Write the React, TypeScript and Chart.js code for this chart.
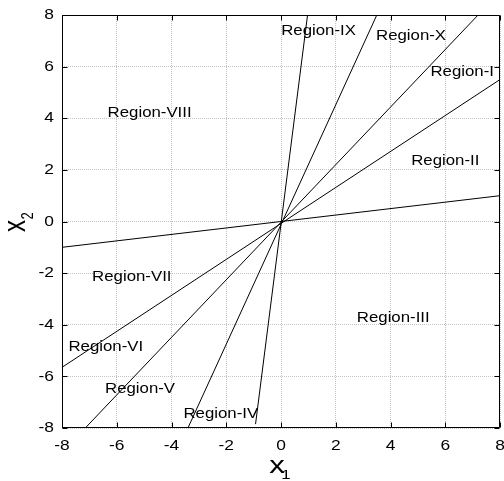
import React, { useEffect, useRef } from "react";
import { Chart, registerables } from "chart.js";

Chart.register(...registerables);

// Boundary lines through origin: endpoints (x1,y1) -> (x2,y2)
const lineStartX = [-8, -8, -7.15, -3.4, -0.93];
const lineStartY = [-1, -5.65, -8, -8, -7.85];
const lineEndX = [8, 8, 7.2, 3.5, 0.97];
const lineEndY = [1, 5.5, 8, 8, 8];

// Region labels (centre positions in data coordinates)
const regionNames = [
  "Region-I", "Region-II", "Region-III", "Region-IV", "Region-V",
  "Region-VI", "Region-VII", "Region-VIII", "Region-IX", "Region-X",
];
const regionX = [6.62, 6.0, 4.1, -2.2, -5.15, -6.4, -5.45, -4.8, 1.37, 4.75];
const regionY = [5.8, 2.35, -3.75, -7.45, -6.5, -4.85, -2.15, 4.2, 7.4, 7.2];

const tickValues = [-8, -6, -4, -2, 0, 2, 4, 6, 8];
const tickLabels = ["-8", "-6", "-4", "-2", "0", "2", "4", "6", "8"];

const FONT = "Liberation Sans, Arial, Helvetica, sans-serif";

function stretchText(ctx: any, text: string, x: number, y: number, size: number, sx: number, align: string, baseline: string) {
  ctx.save();
  ctx.translate(x, y);
  ctx.scale(sx, 1);
  ctx.font = `${size}px ${FONT}`;
  ctx.textAlign = align;
  ctx.textBaseline = baseline;
  ctx.fillText(text, 0, 0);
  ctx.restore();
}

const overlayPlugin = {
  id: "overlay",
  afterDatasetsDraw(chart: any) {
    const { ctx, chartArea, scales } = chart;
    const xs = scales.x;
    const ys = scales.y;
    ctx.save();
    // box
    ctx.strokeStyle = "#000";
    ctx.lineWidth = 1;
    const l = Math.round(chartArea.left) + 0.5;
    const r = Math.round(chartArea.right) - 0.5;
    const t = Math.round(chartArea.top) + 0.5;
    const b = Math.round(chartArea.bottom) - 0.5;
    ctx.beginPath();
    ctx.rect(l, t, r - l, b - t);
    ctx.stroke();
    // inward ticks
    const tl = 5;
    ctx.beginPath();
    tickValues.forEach((v) => {
      const px = Math.round(xs.getPixelForValue(v)) + 0.5;
      ctx.moveTo(px, b);
      ctx.lineTo(px, b - tl);
      ctx.moveTo(px, t);
      ctx.lineTo(px, t + tl);
      const py = Math.round(ys.getPixelForValue(v)) + 0.5;
      ctx.moveTo(l, py);
      ctx.lineTo(l + tl, py);
      ctx.moveTo(r, py);
      ctx.lineTo(r - tl, py);
    });
    ctx.stroke();
    ctx.fillStyle = "#000";
    // tick labels
    tickValues.forEach((v, i) => {
      stretchText(ctx, tickLabels[i], xs.getPixelForValue(v), 446, 15, 1.16, "center", "middle");
      stretchText(ctx, tickLabels[i], 54, ys.getPixelForValue(v), 15, 1.16, "right", "middle");
    });
    // region labels
    regionNames.forEach((name, i) => {
      stretchText(ctx, name, xs.getPixelForValue(regionX[i]), ys.getPixelForValue(regionY[i]), 15, 1.12, "center", "middle");
    });
    // x-axis title
    ctx.save();
    ctx.translate(277, 467);
    ctx.scale(1.3, 1);
    ctx.font = `24px ${FONT}`;
    ctx.textAlign = "left";
    ctx.textBaseline = "alphabetic";
    ctx.fillText("x", -6, 6.2);
    ctx.font = `13px ${FONT}`;
    ctx.textAlign = "center";
    ctx.fillText("1", 6.9, 12);
    ctx.restore();
    // y-axis title
    ctx.save();
    ctx.translate(17, 226);
    ctx.rotate(-Math.PI / 2);
    ctx.scale(1, 1.3);
    ctx.font = `24px ${FONT}`;
    ctx.textAlign = "left";
    ctx.textBaseline = "alphabetic";
    ctx.fillText("x", -6, 6.2);
    ctx.font = `13px ${FONT}`;
    ctx.textAlign = "center";
    ctx.fillText("2", 10, 12);
    ctx.restore();
    ctx.restore();
  },
};

export default function App() {
  const ref = useRef<HTMLCanvasElement | null>(null);
  useEffect(() => {
    if (!ref.current) return;
    const datasets = lineStartX.map((_, i) => ({
      data: [
        { x: lineStartX[i], y: lineStartY[i] },
        { x: lineEndX[i], y: lineEndY[i] },
      ],
      borderColor: "#000",
      borderWidth: 1,
      pointRadius: 0,
      fill: false,
    }));
    const axisCommon = (isY: boolean) => ({
      type: "linear" as const,
      min: -8,
      max: 8,
      ticks: { stepSize: 2, display: false },
      grid: { color: "#c4c4c4", drawTicks: false, lineWidth: 1 },
      border: { display: false, dash: [1, 1] },
      afterFit: (scale: any) => {
        if (isY) {
          scale.width = 62;
          scale.paddingTop = 0;
          scale.paddingBottom = 0;
        } else {
          scale.height = 53;
          scale.paddingLeft = 0;
          scale.paddingRight = 0;
        }
      },
    });
    const chart = new Chart(ref.current, {
      type: "line",
      data: { datasets },
      options: {
        animation: false,
        responsive: true,
        maintainAspectRatio: false,
        layout: { padding: { top: 15, right: 4, left: 0, bottom: 0 } },
        plugins: { legend: { display: false }, tooltip: { enabled: false } },
        scales: { x: axisCommon(false), y: axisCommon(true) },
      },
      plugins: [overlayPlugin],
    } as any);
    return () => chart.destroy();
  }, []);
  return (
    <div style={{ position: "fixed", left: 0, top: 0, width: 504, height: 481, background: "#fff" }}>
      <canvas ref={ref} />
    </div>
  );
}
